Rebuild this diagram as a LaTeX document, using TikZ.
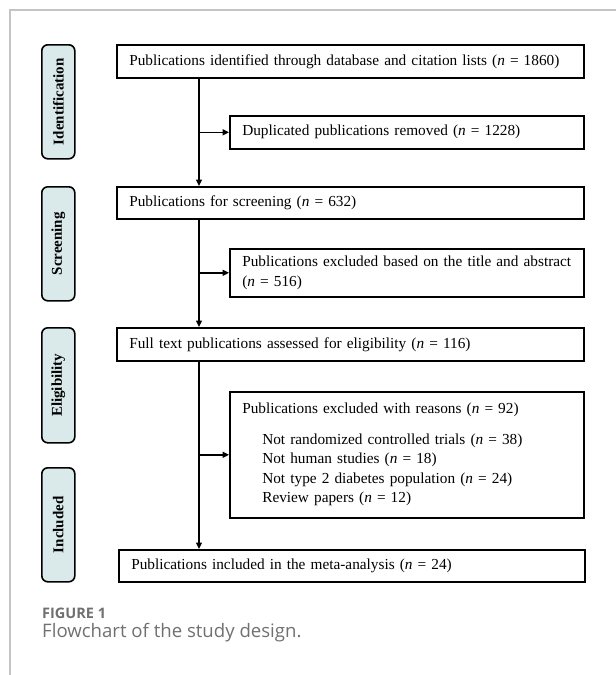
\documentclass[tikz,border=0pt]{standalone}
\usepackage{fontspec}
\setmainfont{Liberation Serif}
\newfontfamily\capfont{Open Sans}
\usetikzlibrary{arrows.meta}
\definecolor{pillfill}{HTML}{DAEAEB}
\definecolor{framegray}{HTML}{C4C4C4}
\definecolor{capgray}{HTML}{707070}
\tikzset{
  box/.style={draw, line width=1.6pt, anchor=north west, inner xsep=12.5pt, inner ysep=0pt,
    align=left, font=\fontsize{15.3}{19.5}\selectfont},
  pill/.style={draw, line width=1.6pt, rounded corners=6pt, fill=pillfill, anchor=north west,
    minimum width=33pt, inner sep=0pt},
  pilltext/.style={rotate=90, font=\fontsize{15}{17}\selectfont\bfseries},
  arr/.style={line width=1.5pt, -{Triangle[length=6.5pt,width=6pt]}},
}
\newcommand{\nn}{\textit{n}}
\begin{document}
\begin{tikzpicture}[x=1pt,y=-1pt]
\useasboundingbox (0,0) rectangle (616,675);
\draw[framegray, line width=1.2pt] (616,10) -- (10,10) -- (10,675);

% stage pills
\node[pill, minimum height=114pt] (p1) at (41,44) {};
\node[pilltext] at (p1.center) {Identification};
\node[pill, minimum height=114pt] (p2) at (41,186) {};
\node[pilltext] at (p2.center) {Screening};
\node[pill, minimum height=115pt] (p3) at (41,327) {};
\node[pilltext] at (p3.center) {Eligibility};
\node[pill, minimum height=114pt] (p4) at (41,467) {};
\node[pilltext] at (p4.center) {Included};

% boxes
\node[box, minimum width=467pt, minimum height=33pt, text width=442pt] (b1) at (116,44)
  {Publications identified through database and citation lists (\nn{} = 1860)};
\node[box, minimum width=354pt, minimum height=33pt, text width=329pt] (dup) at (229,115)
  {Duplicated publications removed (\nn{} = 1228)};
\node[box, minimum width=467pt, minimum height=32pt, text width=442pt] (scr) at (116,186)
  {Publications for screening (\nn{} = 632)};
\node[box, minimum width=354pt, minimum height=48pt, text width=329pt] (ex1) at (229,248)
  {Publications excluded based on the title and abstract\\(\nn{} = 516)};
\node[box, minimum width=467pt, minimum height=33pt, text width=442pt] (full) at (116,327)
  {Full text publications assessed for eligibility (\nn{} = 116)};
\node[box, minimum width=354pt, minimum height=126pt, text width=329pt] (ex2) at (229,391)
  {Publications excluded with reasons (\nn{} = 92)\\[11pt]
   \hspace*{20pt}Not randomized controlled trials (\nn{} = 38)\\
   \hspace*{20pt}Not human studies (\nn{} = 18)\\
   \hspace*{20pt}Not type 2 diabetes population (\nn{} = 24)\\
   \hspace*{20pt}Review papers (\nn{} = 12)};
\node[box, minimum width=466pt, minimum height=32pt, text width=441pt] (inc) at (118,549)
  {Publications included in the meta-analysis (\nn{} = 24)};

% trunk
\coordinate (t) at (199,0);
\draw[arr] (b1.south -| t) -- (scr.north -| t);
\draw[arr] (scr.south -| t) -- (full.north -| t);
\draw[arr] (full.south -| t) -- (inc.north -| t);
\draw[arr] (t |- dup.west) -- (dup.west);
\draw[arr] (t |- ex1.west) -- (ex1.west);
\draw[arr] (t |- ex2.west) -- (ex2.west);

% caption
\node[anchor=base west, inner sep=0pt, text=capgray, font=\capfont\fontsize{14.5}{16}\selectfont\bfseries] (fig) at (42,618) {FIGURE 1};
\node[anchor=base west, inner sep=0pt, text=capgray, font=\capfont\fontsize{18.6}{22}\selectfont] (cap) at (42,637) {Flowchart of the study design.};
\end{tikzpicture}
\end{document}
